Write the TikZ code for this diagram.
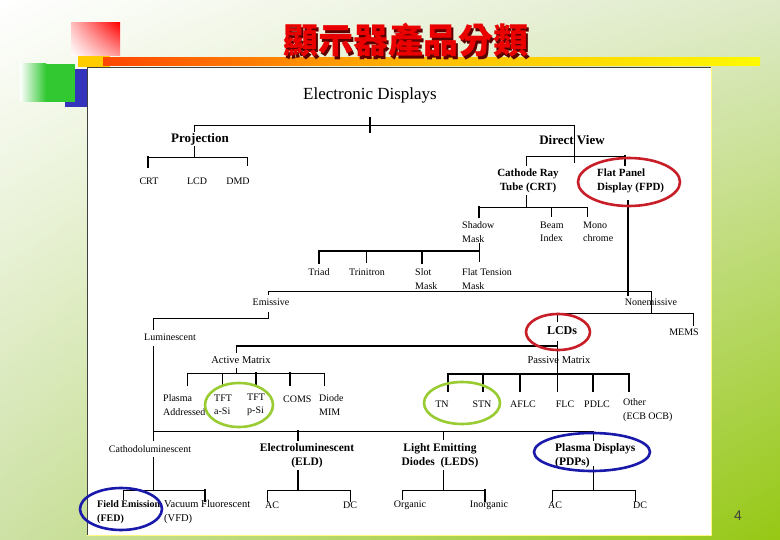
\documentclass[tikz,border=0pt]{standalone}
\usepackage{fontspec}
\usetikzlibrary{shadings}
\setmainfont{Liberation Serif}
\newfontfamily\cjk{Noto Sans CJK TC}
\newfontfamily\sansf{Liberation Sans}
\definecolor{bgA}{RGB}{255,255,255}
\definecolor{bgB}{RGB}{222,234,200}
\definecolor{bgC}{RGB}{205,225,165}
\definecolor{bgD}{RGB}{150,200,20}
\definecolor{sqgreen}{RGB}{50,200,50}
\definecolor{sqblue}{RGB}{51,51,187}
\definecolor{sqyellow}{RGB}{255,204,0}
\definecolor{barorange}{RGB}{255,70,0}
\definecolor{barmid}{RGB}{255,190,0}
\definecolor{baryellow}{RGB}{255,250,0}
\definecolor{ellred}{RGB}{200,30,40}
\definecolor{ellgreen}{RGB}{153,204,51}
\definecolor{ellblue}{RGB}{25,25,170}
\definecolor{titlered}{RGB}{235,0,0}
\definecolor{titleshadow}{RGB}{90,0,0}
\begin{document}
\begin{tikzpicture}[x=1pt,y=-1pt,
  lbl/.style={font=\fontsize{10}{13.5}\selectfont, inner sep=0pt, align=center},
  lbll/.style={lbl, align=left, anchor=west},
  bld/.style={font=\fontsize{11}{14}\selectfont\bfseries, inner sep=0pt, align=center},
  bldl/.style={bld, align=left, anchor=west},
  ln/.style={line width=0.9pt},
  tk/.style={line width=2.6pt},
  ell/.style={line width=2.6pt}]
\useasboundingbox (0,0) rectangle (780,540);
% background
\shade[upper left=bgA, upper right=bgB, lower left=bgC, lower right=bgD] (0,0) rectangle (780,540);
% decoration squares
\fill[sqblue] (65,69) rectangle (100,107);
\shade[left color=white, right color=sqgreen] (20,64) rectangle (46,102);
\fill[sqgreen] (46,64) rectangle (75,102);
\shade[upper left=red!25, upper right=red, lower left=white, lower right=red!40] (71,23) rectangle (120,56);
\fill[sqyellow] (78,56) rectangle (110,67);
\shade[left color=barorange, right color=baryellow, middle color=barmid] (103,58) rectangle (760,66);
% panel
\fill[white] (87,67) rectangle (711,535);
\draw[black!75, line width=0.8pt] (87,535) -- (87,67) -- (711,67);
\draw[yellow!50!white, line width=0.8pt] (711,67) -- (711,535) -- (87,535);
% title
\node[text=titleshadow, font=\cjk\bfseries\fontsize{35}{35}\selectfont] (titleshadow) at (408,43) {顯示器產品分類};
\node[text=titlered, font=\cjk\bfseries\fontsize{35}{35}\selectfont] (title) at (405.5,40.5) {顯示器產品分類};
% page number
\node[font=\sansf\fontsize{14}{14}\selectfont, text=black!75] (pagenum) at (738,516) {4};

% ---- lines (drawn before nodes that hide them)
\draw[tk] (370,117) -- (370,133);
\draw[ln] (194,125) -- (574,125);
\draw[ln] (194,125) -- (194,157);
\draw[ln] (148,157) -- (247,157);
\draw[tk] (148,156) -- (148,168);
\draw[ln] (247,157) -- (247,166);

% ---- nodes
\node[font=\fontsize{17}{17}\selectfont, inner sep=0pt] (root) at (370,95) {Electronic Displays};
\node[font=\fontsize{13}{13}\selectfont\bfseries, fill=white, inner sep=1pt] (proj) at (200,139) {Projection};
\node[font=\fontsize{13}{13}\selectfont\bfseries, inner sep=0pt] (direct) at (572,140) {Direct View};
\node[lbl] (pcrt) at (149,181) {CRT};
\node[lbl] (plcd) at (197,181) {LCD};
\node[lbl] (pdmd) at (238,181) {DMD};
\node[bld] (crt) at (528,181) {Cathode Ray\\Tube (CRT)};
\node[bldl] (fpd) at (597,181) {Flat Panel\\Display (FPD)};
\node[lbll] (shadow) at (462,232) {Shadow\\Mask};
\node[lbll] (beam) at (540,232) {Beam\\Index};
\node[lbll] (mono) at (583,232) {Mono\\chrome};
\node[lbl] (triad) at (319,272) {Triad};
\node[lbl] (trini) at (367,272) {Trinitron};
\node[lbll] (slot) at (415,279) {Slot\\Mask};
\node[lbll] (flatt) at (462,279) {Flat Tension\\Mask};
\node[lbl] (emis) at (271,302) {Emissive};
\node[lbl] (nonemis) at (651,302) {Nonemissive};
\node[lbl] (lumi) at (170,337) {Luminescent};
\node[lbl] (mems) at (684,332) {MEMS};
\node[font=\fontsize{12}{12}\selectfont\bfseries, inner sep=0pt] (lcds) at (562,331) {LCDs};
\node[lbl, font=\fontsize{10.5}{13}\selectfont] (active) at (241,360) {Active Matrix};
\node[lbl, font=\fontsize{10.5}{13}\selectfont] (passive) at (559,360) {Passive Matrix};
\node[lbll] (plasmaad) at (163,405) {Plasma\\Addressed};
\node[lbll] (tftasi) at (214,405) {TFT\\a-Si};
\node[lbll] (tftpsi) at (247,405) {TFT\\p-Si};
\node[lbll] (coms) at (283,399) {COMS};
\node[lbll] (diode) at (319,405) {Diode\\MIM};
\node[lbl] (tn) at (442,404) {TN};
\node[lbl] (stn) at (482,404) {STN};
\node[lbl] (aflc) at (523,404) {AFLC};
\node[lbl] (flc) at (565,404) {FLC};
\node[lbl] (pdlc) at (597,404) {PDLC};
\node[lbll] (other) at (623,410) {Other\\(ECB OCB)};
\node[lbl] (cathodo) at (150,449) {Cathodoluminescent};
\node[bld, font=\fontsize{11.5}{14}\selectfont\bfseries] (eld) at (307,456) {Electroluminescent\\(ELD)};
\node[bld, font=\fontsize{11.5}{14}\selectfont\bfseries] (led) at (440,456) {Light Emitting\\Diodes~ (LEDS)};
\node[bldl, font=\fontsize{11.5}{14}\selectfont\bfseries] (pdp) at (555,456) {Plasma Displays\\(PDPs)};
\node[bldl, font=\fontsize{10}{14}\selectfont\bfseries] (fed) at (97,512) {Field Emission\\(FED)};
\node[lbll, font=\fontsize{10.5}{14}\selectfont] (vfd) at (164,512) {Vacuum Fluorescent\\(VFD)};
\node[lbl] (eac) at (272,505) {AC};
\node[lbl] (edc) at (350,505) {DC};
\node[lbl] (org) at (410,505) {Organic};
\node[lbl] (inorg) at (489,505) {Inorganic};
\node[lbl] (pac) at (555,505) {AC};
\node[lbl] (pdc) at (640,505) {DC};

% ---- remaining connectors
% Direct View
\draw[ln] (574,125) -- (574,163);
\draw[ln] (526,156) -- (625,156);
\draw[ln] (526,156) -- (526,166);
\draw[tk] (625,155) -- (625,166);
% CRT
\draw[ln] (526,195) -- (526,207);
\draw[ln] (479,207) -- (587,207);
\draw[tk] (479,206) -- (479,218);
\draw[ln] (551,207) -- (551,217);
\draw[ln] (587,207) -- (587,217);
% FPD
\draw[tk] (628,200) -- (628,296);
% Shadow mask
\draw[ln] (479,243) -- (479,262);
\draw[tk] (319,251) -- (480,251);
\draw[tk] (319,250) -- (319,264);
\draw[tk] (422,250) -- (422,264);
\draw[ln] (366,251) -- (366,263);
% Emissive / Nonemissive
\draw[ln] (268,291) -- (651,291);
\draw[ln] (268,291) -- (268,295);
\draw[ln] (651,291) -- (651,314);
\draw[ln] (268,312) -- (268,318) -- (153,318) -- (153,330);
% Nonemissive
\draw[ln] (557,313) -- (693,313);
\draw[ln] (693,313) -- (693,326);
\draw[ln] (557,313) -- (557,322);
% LCDs
\draw[ln] (557,341) -- (557,392);
\draw[tk] (236,346) -- (557,346);
\draw[ln] (236,346) -- (236,353);
% Active matrix
\draw[ln] (236,368) -- (236,373);
\draw[ln] (187,373) -- (324,373);
\draw[ln] (187,373) -- (187,386);
\draw[ln] (222,373) -- (222,386);
\draw[tk] (256,372) -- (256,386);
\draw[tk] (290,372) -- (290,386);
\draw[ln] (324,373) -- (324,386);
% Passive matrix
\draw[tk] (448,374) -- (629,374);
\foreach \xx in {448,483,520,593,629} \draw[tk] (\xx,373) -- (\xx,392);
% Luminescent
\draw[ln] (153,346) -- (153,441);
\draw[ln] (153,431) -- (593,431);
\draw[tk] (298,430) -- (298,441);
\draw[ln] (443,431) -- (443,440);
\draw[ln] (593,431) -- (593,441);
% Cathodoluminescent
\draw[ln] (153,457) -- (153,490);
\draw[ln] (123,490) -- (205,490);
\draw[ln] (123,490) -- (123,500);
\draw[tk] (205,489) -- (205,502);
% ELD
\draw[tk] (298,470) -- (298,490);
\draw[ln] (267,490) -- (350,490);
\draw[ln] (267,490) -- (267,502);
\draw[ln] (350,490) -- (350,502);
% LED
\draw[ln] (443,470) -- (443,490);
\draw[ln] (402,490) -- (485,490);
\draw[ln] (402,490) -- (402,500);
\draw[tk] (485,489) -- (485,502);
% PDP
\draw[ln] (593,466) -- (593,490);
\draw[ln] (552,490) -- (635,490);
\draw[ln] (552,490) -- (552,502);
\draw[ln] (635,490) -- (635,502);

% ---- highlight ellipses
\draw[ell, ellred] (629,182) ellipse [x radius=51, y radius=24];
\draw[ell, ellred] (558,332) ellipse [x radius=32, y radius=18];
\draw[ell, ellgreen] (239,405) ellipse [x radius=34, y radius=22];
\draw[ell, ellgreen] (462,403) ellipse [x radius=38, y radius=21];
\draw[ell, ellblue] (592,452) ellipse [x radius=58, y radius=19];
\draw[ell, ellblue] (121,509) ellipse [x radius=41, y radius=21];
\end{tikzpicture}
\end{document}
